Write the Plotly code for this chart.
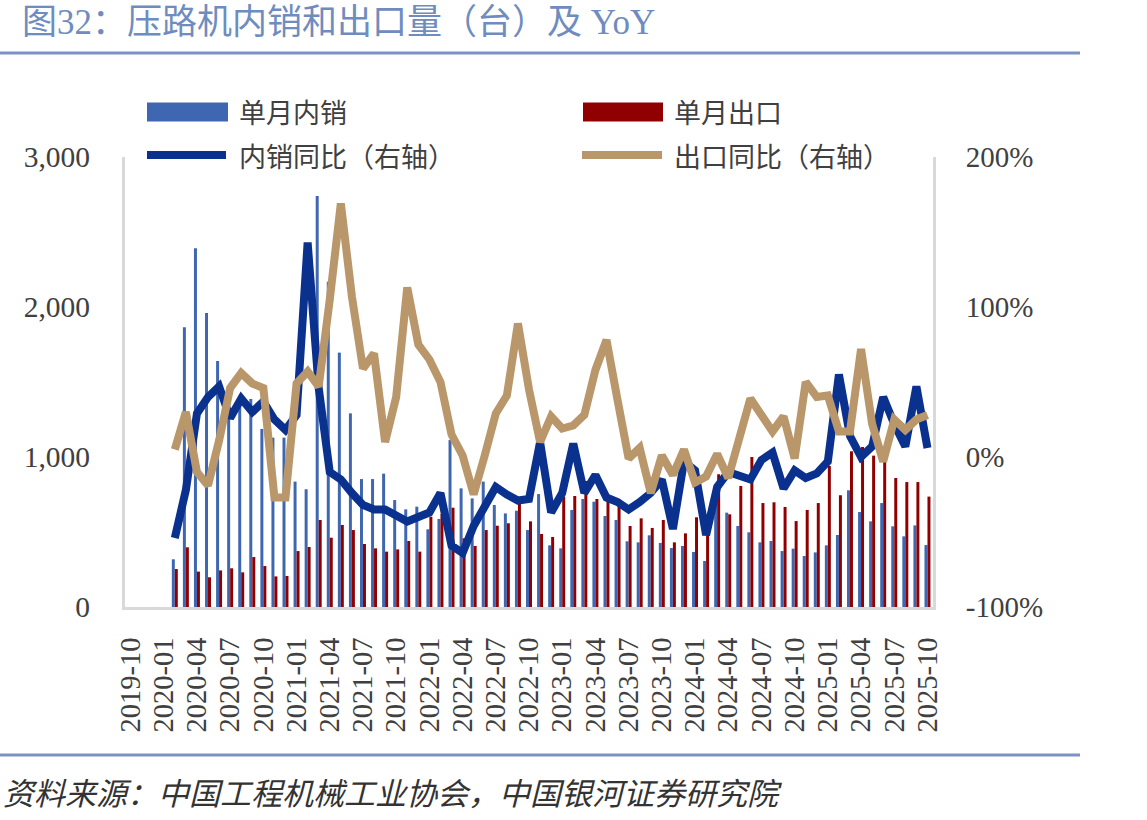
import plotly.graph_objects as go

# ---------------- data ----------------
# month categories on the axis (2019-10 .. 2025-10)
def month_list(y0, m0, y1, m1):
    out = []
    y, m = y0, m0
    while (y, m) <= (y1, m1):
        out.append(f"{y}-{m:02d}")
        m += 1
        if m > 12:
            m = 1
            y += 1
    return out

categories = month_list(2019, 10, 2025, 10)
data_months = month_list(2020, 2, 2025, 10)
tick_labels = categories[::3]

domestic = [318, 1865, 2391, 1960, 1640, 1420, 1380, 1387, 1187, 1129, 1129, 836,
            785, 2740, 2169, 1696, 1291, 853, 853, 889, 713, 651, 669, 518,
            587, 1113, 791, 724, 836, 680, 624, 642, 513, 753, 411, 391,
            647, 720, 702, 607, 580, 438, 431, 478, 427, 393, 407, 367,
            307, 820, 629, 540, 498, 431, 440, 373, 389, 340, 364, 411,
            480, 778, 633, 571, 693, 538, 471, 544, 413]

export = [253, 398, 236, 198, 244, 258, 231, 333, 273, 204, 207, 373,
          400, 580, 462, 547, 513, 420, 391, 369, 384, 440, 369, 602,
          620, 662, 458, 407, 513, 542, 558, 720, 571, 487, 467, 736,
          740, 840, 720, 713, 718, 540, 591, 527, 580, 431, 491, 598,
          560, 885, 618, 807, 1000, 693, 698, 667, 573, 647, 693, 940,
          745, 1038, 1067, 1009, 990, 860, 833, 833, 736]

domestic_yoy = [-54, -22, 29, 40, 47, 26, 39, 30, 37, 25, 18, 28,
                143, 46, -10, -15, -24, -32, -35, -35, -39, -43, -40, -37,
                -24, -59, -64, -46, -33, -20, -25, -29, -28, 10, -37, -24,
                9, -24, -12, -27, -30, -35, -30, -24, -15, -48, -3, -9,
                -52, -20, -10, -12, -15, -2, 3, -21, -9, -14, -11, -3,
                55, 14, 0, 7, 40, 22, 7, 47, 6]

export_yoy = [5, 30, -10, -19, 11, 46, 56, 49, 46, -27, -27, 49,
              57, 47, 105, 169, 107, 59, 69, 10, 40, 113, 75, 65,
              50, 15, 1, -25, 1, 29, 41, 89, 45, 10, 27, 19,
              21, 28, 58, 78, 38, -1, 6, -24, 1, -12, 5, -17,
              -13, 2, -14, 14, 39, 28, 17, 27, -1, 50, 40, 41,
              17, 17, 72, 22, -3, 25, 18, 25, 28]

series_names = ["单月内销", "单月出口", "内销同比（右轴）", "出口同比（右轴）"]
left_ticks = [0, 1000, 2000, 3000]
right_ticks = [-100, 0, 100, 200]
right_tick_text = ["-100%", "0%", "100%", "200%"]

# ---------------- style ----------------
W, H = 1147, 820
PL, PR, PT, PB = 125, 933, 157, 607  # plot area in pixels
BLUE_BAR = "#3f67b1"
RED_BAR = "#900000"
BLUE_LINE = "#0b318f"
TAN_LINE = "#b9976a"
TEXT = "#404040"
RULE = "#7b93c4"
AXIS = "#d9d9d9"
NUM_FONT = "Liberation Serif, Noto Sans CJK SC"
CJK_FONT = "Noto Sans CJK SC"


def px2x(px):
    return (px - PL) / (PR - PL)


def px2y(py):
    return (PB - py) / (PB - PT)


fig = go.Figure()
fig.add_trace(go.Bar(x=data_months, y=domestic, name=series_names[0],
                     marker=dict(color=BLUE_BAR, line=dict(width=0))))
fig.add_trace(go.Bar(x=data_months, y=export, name=series_names[1],
                     marker=dict(color=RED_BAR, line=dict(width=0))))
fig.add_trace(go.Scatter(x=data_months, y=domestic_yoy, name=series_names[2], yaxis="y2",
                         mode="lines", line=dict(color=BLUE_LINE, width=8)))
fig.add_trace(go.Scatter(x=data_months, y=export_yoy, name=series_names[3], yaxis="y2",
                         mode="lines", line=dict(color=TAN_LINE, width=8)))

fig.update_layout(
    width=W, height=H, autosize=False,
    margin=dict(l=PL, r=W - PR, t=PT, b=H - PB, pad=0),
    paper_bgcolor="white", plot_bgcolor="white",
    showlegend=False,
    barmode="group", bargap=0.46, bargroupgap=0,
    title=dict(text="图32：压路机内销和出口量（台）及 YoY",
               xref="container", yref="container",
               x=22 / W, y=1 - 22 / H, xanchor="left", yanchor="middle",
               font=dict(family=NUM_FONT, size=35, color="#6f8cc0")),
    xaxis=dict(type="category", categoryorder="array", categoryarray=categories,
               range=[-0.5, len(categories) - 0.5],
               tickmode="array", tickvals=tick_labels, ticktext=tick_labels,
               tickangle=-90, ticks="", ticklabelstandoff=16,
               tickfont=dict(family=NUM_FONT, size=28.5, color=TEXT),
               showline=True, linecolor=AXIS, linewidth=3,
               showgrid=False, zeroline=False),
    yaxis=dict(range=[0, 3000], tickmode="array", tickvals=left_ticks, tickformat=",d",
               ticks="", ticklabelstandoff=26,
               tickfont=dict(family=NUM_FONT, size=29.5, color=TEXT),
               showline=True, linecolor=AXIS, linewidth=3,
               showgrid=False, zeroline=False),
    yaxis2=dict(range=[-100, 200], tickmode="array", tickvals=right_ticks,
                ticktext=right_tick_text,
                overlaying="y", side="right",
                ticks="", ticklabelstandoff=24,
                tickfont=dict(family=NUM_FONT, size=29, color=TEXT),
                showline=True, linecolor=AXIS, linewidth=3,
                showgrid=False, zeroline=False),
)

shapes = []
# horizontal rules
for py in (53, 755):
    shapes.append(dict(type="line", xref="paper", yref="paper",
                       x0=px2x(0), x1=px2x(1080), y0=px2y(py), y1=px2y(py),
                       line=dict(color=RULE, width=3), layer="above"))
# custom legend
legend_items = [
    ("rect", BLUE_BAR, 147, 228, 112, 237, series_names[0]),
    ("rect", RED_BAR, 583, 663, 112, 672, series_names[1]),
    ("line", BLUE_LINE, 147, 226, 155, 237, series_names[2]),
    ("line", TAN_LINE, 582, 662, 155, 672, series_names[3]),
]
annotations = []
for kind, col, x0, x1, yc, tx, label in legend_items:
    if kind == "rect":
        shapes.append(dict(type="rect", xref="paper", yref="paper",
                           x0=px2x(x0), x1=px2x(x1), y0=px2y(yc + 9.5), y1=px2y(yc - 9.5),
                           fillcolor=col, line=dict(width=0), layer="above"))
    else:
        shapes.append(dict(type="line", xref="paper", yref="paper",
                           x0=px2x(x0), x1=px2x(x1), y0=px2y(yc), y1=px2y(yc),
                           line=dict(color=col, width=8), layer="above"))
    annotations.append(dict(text=label, xref="paper", yref="paper",
                            x=px2x(tx), y=px2y(yc), xanchor="left", yanchor="middle",
                            showarrow=False,
                            font=dict(family=CJK_FONT, size=27, color=TEXT)))

annotations.append(dict(text="<i>资料来源：中国工程机械工业协会，中国银河证券研究院</i>",
                        xref="paper", yref="paper", x=px2x(1), y=px2y(791),
                        xanchor="left", yanchor="middle", showarrow=False,
                        font=dict(family=CJK_FONT, size=31, color="#333333")))

fig.update_layout(shapes=shapes, annotations=annotations)
fig.write_html("out.html")
